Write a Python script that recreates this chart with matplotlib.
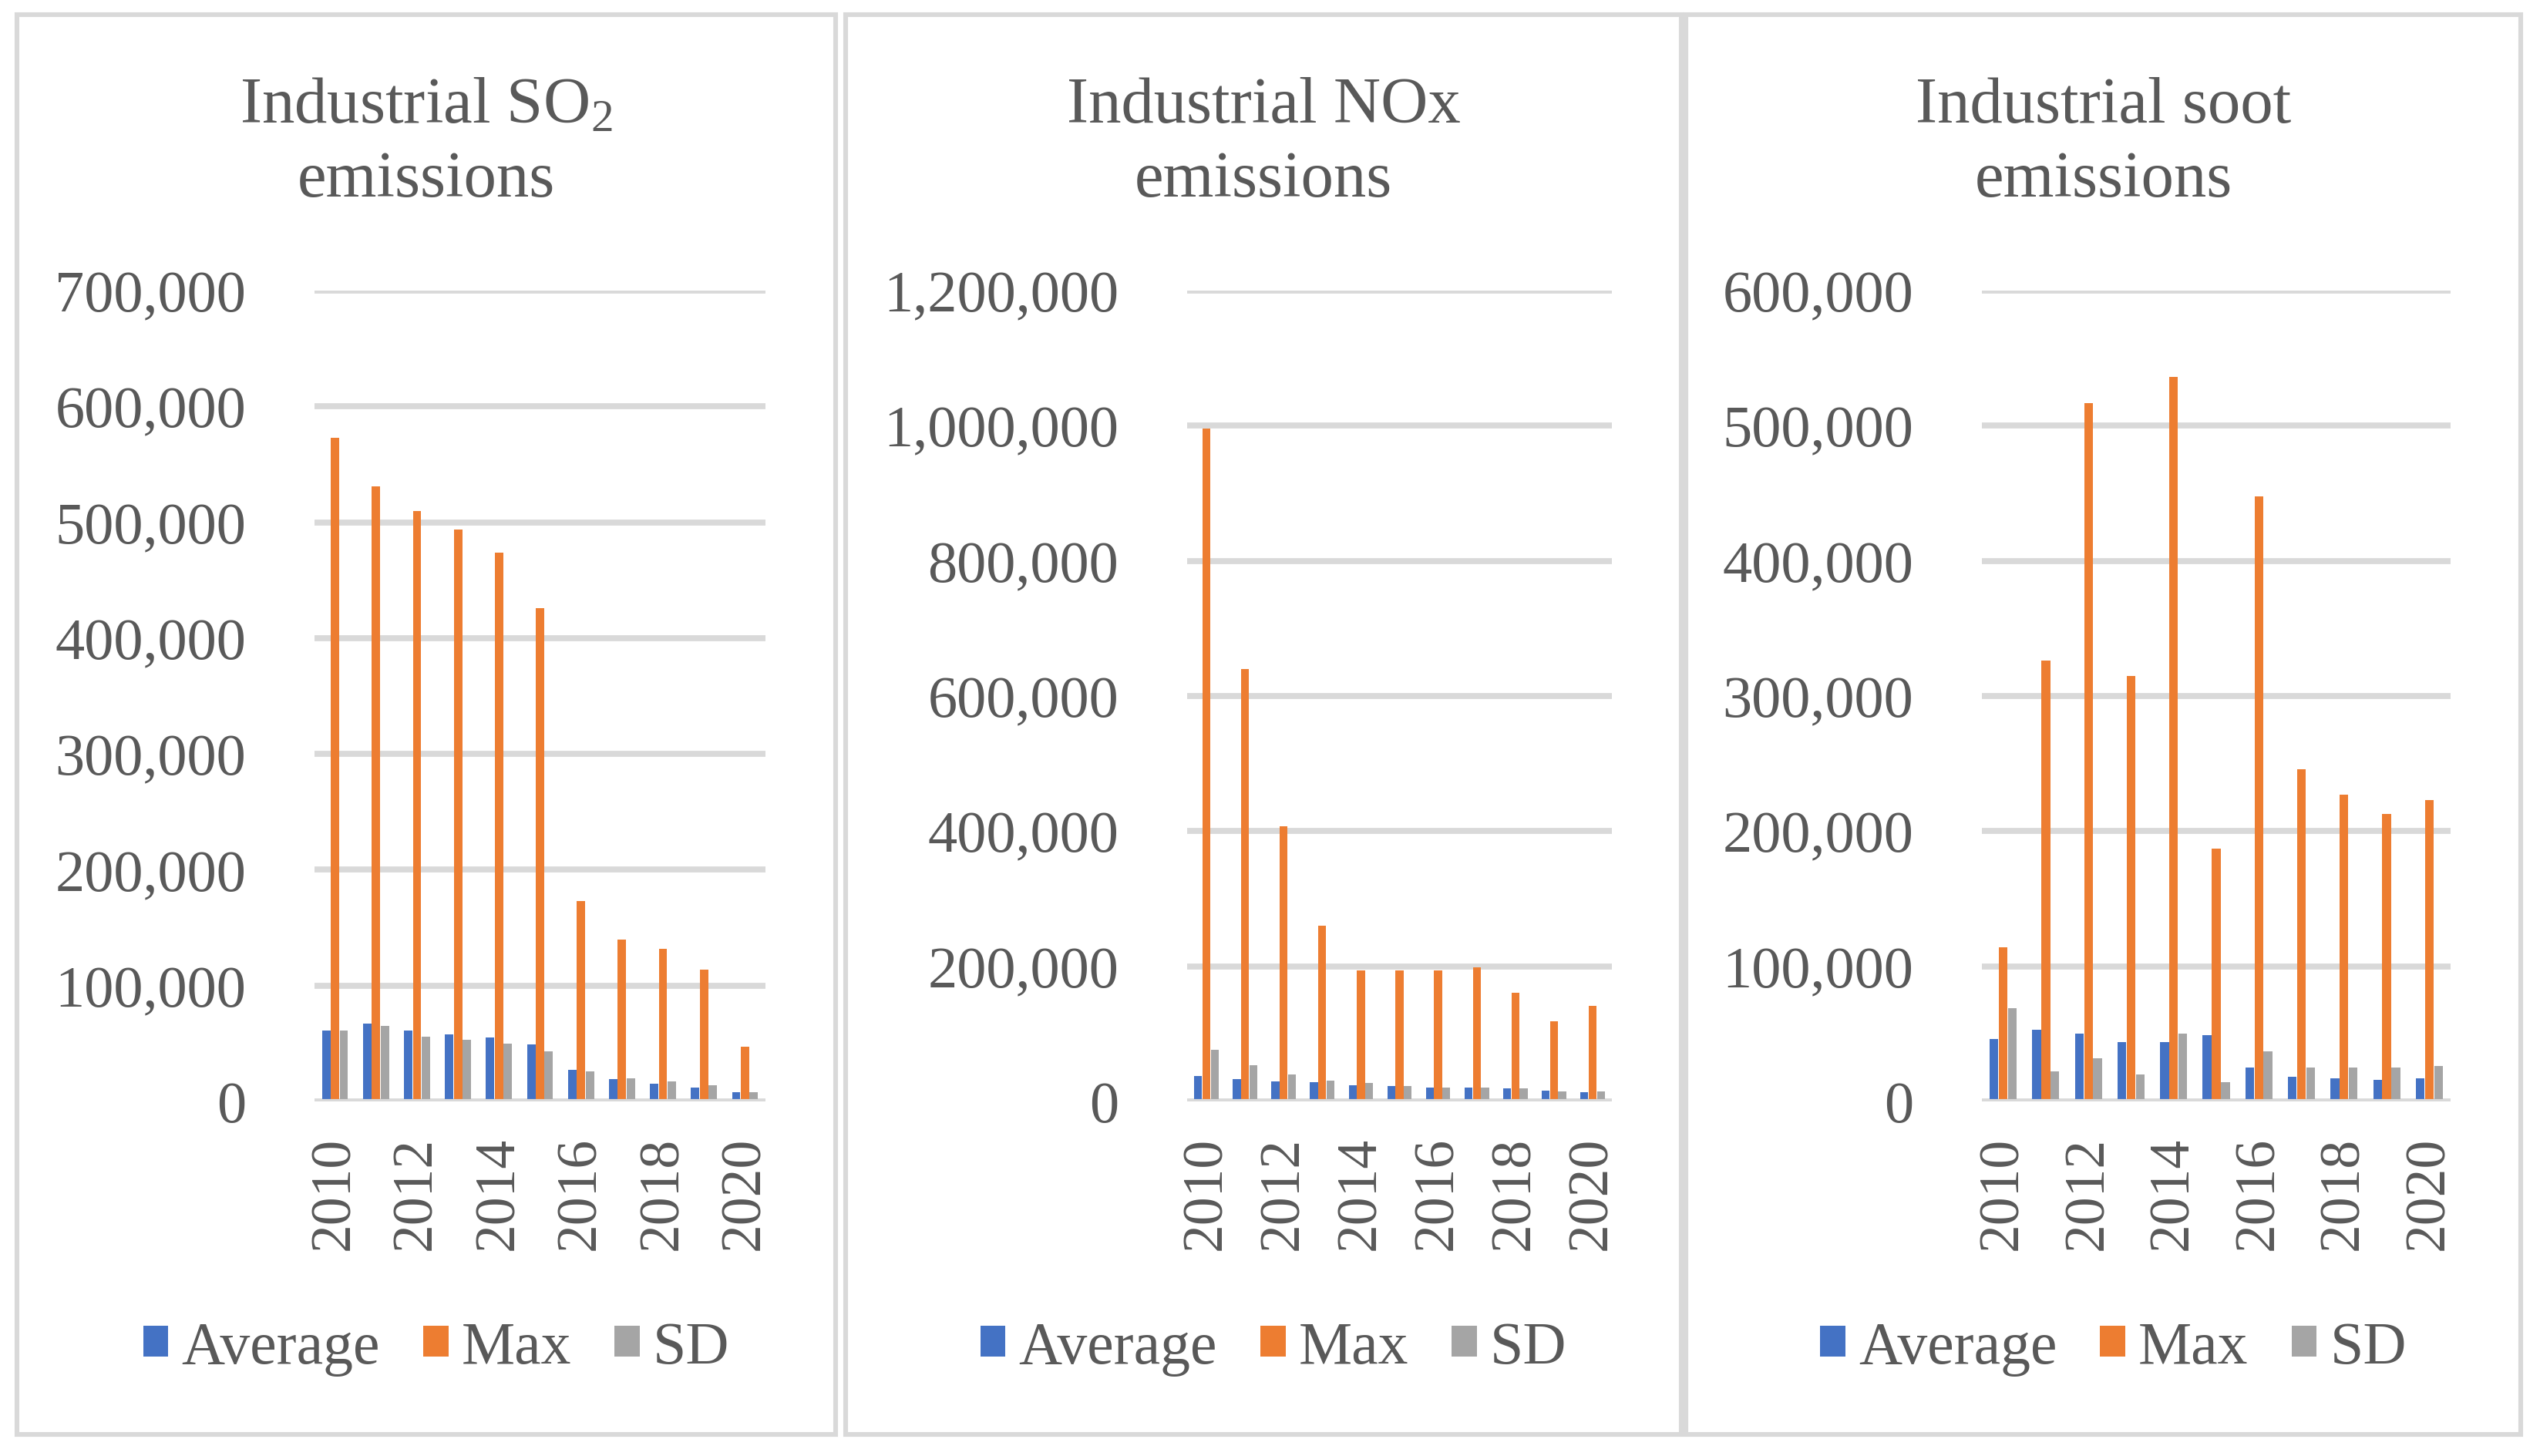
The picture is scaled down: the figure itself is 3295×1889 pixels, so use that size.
import matplotlib
matplotlib.use("Agg")
import matplotlib.pyplot as plt
from matplotlib.patches import Patch, Rectangle
from matplotlib.ticker import FuncFormatter

# ---- data ----
years = [2010, 2011, 2012, 2013, 2014, 2015, 2016, 2017, 2018, 2019, 2020]
series_names = ["Average", "Max", "SD"]

so2_avg = [61000, 67000, 61000, 58000, 55000, 49000, 27000, 19000, 15000, 12000, 8000]
so2_max = [573000, 531000, 510000, 494000, 474000, 426000, 173000, 140000, 132000, 114000, 47000]
so2_sd = [61000, 65000, 56000, 53000, 50000, 43000, 26000, 20000, 17500, 14000, 8000]

nox_avg = [38000, 33000, 30000, 28000, 24000, 23000, 21000, 21000, 19000, 16000, 14000]
nox_max = [996000, 640000, 407000, 260000, 194000, 194000, 194000, 198000, 161000, 119000, 142000]
nox_sd = [76000, 54000, 40000, 31000, 27000, 23000, 21000, 21000, 19000, 15000, 15000]

soot_avg = [46000, 53000, 50000, 44000, 44000, 49000, 25000, 18000, 17000, 16000, 17000]
soot_max = [114000, 326000, 517000, 315000, 536000, 187000, 448000, 246000, 227000, 213000, 223000]
soot_sd = [69000, 22000, 32000, 20000, 50000, 14000, 37000, 25000, 25000, 25000, 26000]

titles = ["Industrial SO$_2$", "Industrial NOx", "Industrial soot"]
y_max = [700000, 1200000, 600000]
y_step = [100000, 200000, 100000]

# ---- style ----
W, H, DPI = 3295, 1890, 200
colors = ["#4472C4", "#ED7D31", "#A5A5A5"]
text_col = "#595959"
grid_col = "#D9D9D9"

plt.rcParams["font.family"] = ["Liberation Serif", "DejaVu Serif"]
plt.rcParams["mathtext.fontset"] = "custom"
plt.rcParams["mathtext.rm"] = "Liberation Serif"
plt.rcParams["mathtext.default"] = "regular"

fig = plt.figure(figsize=(W / DPI, H / DPI), dpi=DPI)

# panel frames and plot areas in pixels (left, right)
frames = [(22, 1084), (1097, 2181), (2187, 3270)]
plot_x = [(408, 993), (1540, 2091), (2571, 3179)]
plot_top, plot_bottom = 378, 1430
frame_top, frame_bottom = 20, 1862

data = [(so2_avg, so2_max, so2_sd), (nox_avg, nox_max, nox_sd), (soot_avg, soot_max, soot_sd)]

width = 0.205
offsets = [-0.215, 0.0, 0.215]
x = list(range(len(years)))

for i in range(3):
    fl, fr = frames[i]
    fig.patches.append(Rectangle((fl / W, 1 - frame_bottom / H), (fr - fl) / W,
                                 (frame_bottom - frame_top) / H, transform=fig.transFigure,
                                 fill=False, edgecolor=grid_col, linewidth=2.2, zorder=0))

    xl, xr = plot_x[i]
    ax = fig.add_axes([xl / W, 1 - plot_bottom / H, (xr - xl) / W, (plot_bottom - plot_top) / H])
    for j, vals in enumerate(data[i]):
        ax.bar([k + offsets[j] for k in x], vals, width=width, color=colors[j], zorder=2,
               label=series_names[j])

    ax.set_xlim(-0.5, len(years) - 0.5)
    ax.set_ylim(0, y_max[i])
    ax.set_yticks(range(0, y_max[i] + 1, y_step[i]))
    ax.yaxis.set_major_formatter(FuncFormatter(lambda v, p: f"{int(v):,}"))
    ax.grid(axis="y", color=grid_col, linewidth=2.8, zorder=0)
    ax.axhline(0, color=grid_col, linewidth=2.6, zorder=3)
    ax.set_xticks(x[::2])
    ax.set_xticklabels([str(y) for y in years[::2]], rotation=90)
    ax.tick_params(axis="y", length=0, pad=32, labelsize=27.5, labelcolor=text_col)
    ax.tick_params(axis="x", length=0, pad=16, labelsize=26.5, labelcolor=text_col)
    for s in ax.spines.values():
        s.set_visible(False)

    cx = (fl + fr) / 2
    fig.text(cx / W, 1 - 159 / H, titles[i], ha="center", va="baseline",
             fontsize=30.5, color=text_col)
    fig.text(cx / W, 1 - 255 / H, "emissions", ha="center", va="baseline",
             fontsize=30.5, color=text_col)

    handles = [Patch(facecolor=c, label=n) for c, n in zip(colors, series_names)]
    fig.legend(handles=handles, loc="center", bbox_to_anchor=((cx + 13) / W, 1 - 1750 / H),
               ncol=3, frameon=False, fontsize=28, handlelength=0.42, handleheight=0.42,
               handletextpad=0.22, columnspacing=0.72, labelcolor=text_col)

fig.savefig("out.png", dpi=DPI)
